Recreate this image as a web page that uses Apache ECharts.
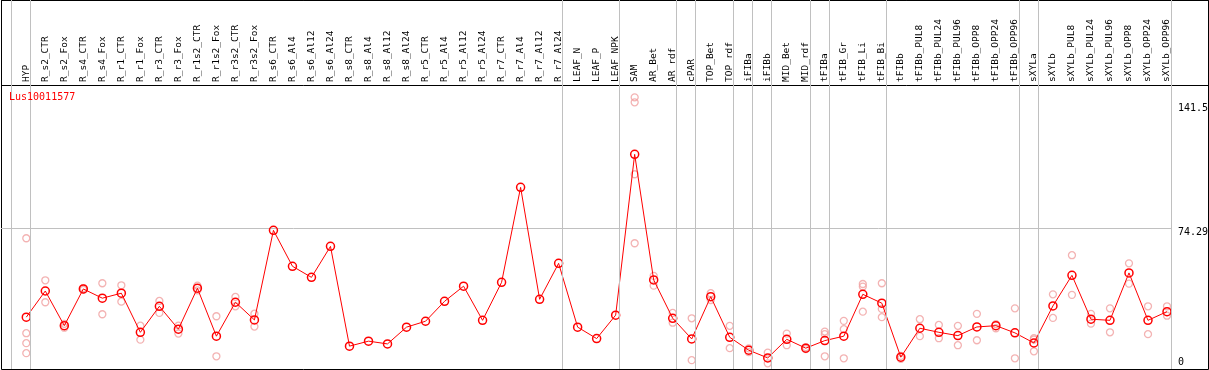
<!DOCTYPE html>
<html>
<head>
<meta charset="utf-8">
<script src="https://cdn.jsdelivr.net/npm/echarts@6/dist/echarts.min.js"></script>
<style>html,body{margin:0;padding:0;background:#fff;}#c{width:1209px;height:370px;}</style>
</head>
<body>
<div id="c"></div>
<script>
const categories = ["HYP","R_s2_CTR","R_s2_Fox","R_s4_CTR","R_s4_Fox","R_r1_CTR","R_r1_Fox","R_r3_CTR","R_r3_Fox","R_r1s2_CTR","R_r1s2_Fox","R_r3s2_CTR","R_r3s2_Fox","R_s6_CTR","R_s6_Al4","R_s6_Al12","R_s6_Al24","R_s8_CTR","R_s8_Al4","R_s8_Al12","R_s8_Al24","R_r5_CTR","R_r5_Al4","R_r5_Al12","R_r5_Al24","R_r7_CTR","R_r7_Al4","R_r7_Al12","R_r7_Al24","LEAF_N","LEAF_P","LEAF_NPK","SAM","AR_Bet","AR_rdf","cPAR","TOP_Bet","TOP_rdf","iFIBa","iFIBb","MID_Bet","MID_rdf","tFIBa","tFIB_Gr","tFIB_Li","tFIB_Bi","tFIBb","tFIBb_PUL8","tFIBb_PUL24","tFIBb_PUL96","tFIBb_OPP8","tFIBb_OPP24","tFIBb_OPP96","sXYLa","sXYLb","sXYLb_PUL8","sXYLb_PUL24","sXYLb_PUL96","sXYLb_OPP8","sXYLb_OPP24","sXYLb_OPP96"];

const meanValues = [26.1,40.3,21.5,41.4,36.4,39.1,17.9,32.0,19.6,41.8,15.8,34.2,24.6,73.2,53.7,47.7,64.5,10.4,13.1,11.6,20.7,23.9,34.7,42.9,24.4,45.0,96.5,35.8,55.3,20.7,14.5,27.2,114.4,46.3,25.5,14.3,37.2,15.2,8.2,4.0,14.1,9.3,13.4,15.8,38.5,33.7,4.4,20.1,17.9,16.1,20.8,21.5,17.6,12.1,32.2,48.8,25.0,24.4,50.1,24.4,29.1];

const replicateValues = [
  [68.9,17.4,12.0,6.6],[46.1,34.2],[22.5,20.4],[41.9,40.9],[44.5,27.7],[43.4,34.5],[21.5,13.9],[34.9,28.4],[21.5,17.2],[43.2,40.6],[26.6,4.9],[37.1,32.0],[28.0,21.0],
  [],[],[],[],[],[],[],[],[],[],[],[],[],[],[],[],[],[],[],
  [145.3,142.6,103.6,66.2],[48.5,43.2],[28.4,23.1],[25.5,2.8],[39.1,35.4],[21.4,9.3],[9.2,7.2],[6.9,1.1],[17.2,10.9],[9.8,8.8],
  [18.3,16.9,4.9],[24.1,19.6,3.8],[44.1,42.7,29.1],[44.5,30.6,26.1],[5.1,3.5],[25.0,15.8],[21.9,14.7],[21.4,10.9],[27.9,13.6],[22.3,20.1],[30.9,3.8],
  [14.7,14.0,7.6],[38.5,25.7],[59.7,38.2],[27.9,22.6],[30.9,17.9],[55.3,44.3],[32.0,16.9],[32.0,26.9]
];

// group boundaries: a separator follows each of these category indices (-1 = before the first)
const groupEnds = [-1,0,28,31,34,35,37,38,39,41,42,45,52,53,60];

const yTickLabels = [0, 74.29, 141.5];
const seriesName = "Lus10011577";

const FONT = "DejaVu Sans Mono";
const XMIN = -1.33, XMAX = 60.21;
const SEP_OFF = 0.21;

const lineData = meanValues.map((v, i) => [i, v]);
const repData = [];
replicateValues.forEach((arr, i) => arr.forEach(v => repData.push([i, v])));
const idx = categories.map((c, i) => i);

const chart = echarts.init(document.getElementById('c'), null, {renderer: 'canvas'});
chart.setOption({
  animation: false,
  backgroundColor: '#fff',
  title: {
    text: seriesName, left: 9, top: 92, padding: 0,
    textStyle: {color: '#ff0000', fontFamily: FONT, fontSize: 10, fontWeight: 'normal'}
  },
  grid: [
    {left: 1, right: 38, top: 85, bottom: 1, outerBoundsMode: 'none', containLabel: false},
    {left: 1, right: 38, top: 0, bottom: 1, outerBoundsMode: 'none'},
    {left: 1.5, right: 0.5, top: 0.5, bottom: 0.5, show: true, borderColor: '#000', borderWidth: 1, backgroundColor: 'transparent', outerBoundsMode: 'none'},
    {left: 1.5, right: 0.5, top: 0.5, height: 85, show: true, borderColor: '#000', borderWidth: 1, backgroundColor: 'transparent', outerBoundsMode: 'none'}
  ],
  xAxis: [
    {gridIndex: 0, type: 'value', min: XMIN, max: XMAX, position: 'top',
     axisLine: {show: false}, axisTick: {show: false}, splitLine: {show: false},
     axisLabel: {customValues: idx, formatter: v => categories[v] || '', rotate: 90, margin: 3,
                 fontFamily: FONT, fontSize: 9.5, color: '#000', hideOverlap: false}},
    {gridIndex: 1, type: 'value', min: XMIN, max: XMAX, show: false},
    {gridIndex: 2, type: 'value', min: 0, max: 1, show: false},
    {gridIndex: 3, type: 'value', min: 0, max: 1, show: false}
  ],
  yAxis: [
    {gridIndex: 0, type: 'value', min: -2, max: 152, position: 'right',
     axisLine: {show: false}, axisTick: {show: false}, splitLine: {show: false},
     axisLabel: {customValues: yTickLabels, margin: 7, align: 'left', verticalAlign: 'middle',
                 fontFamily: FONT, fontSize: 10, color: '#000',
                 formatter: v => v === 0 ? '{b|' + v + '}' : '{t|' + v + '}',
                 rich: {t: {padding: [8, 0, 0, 0], lineHeight: 12, fontFamily: FONT, fontSize: 10, color: '#000'},
                        b: {padding: [0, 0, 6, 0], lineHeight: 12, fontFamily: FONT, fontSize: 10, color: '#000'}}}},
    {gridIndex: 1, type: 'value', min: 0, max: 1, show: false},
    {gridIndex: 2, type: 'value', min: 0, max: 1, show: false},
    {gridIndex: 3, type: 'value', min: 0, max: 1, show: false}
  ],
  series: [
    {
      type: 'scatter', xAxisIndex: 1, yAxisIndex: 1, data: [], silent: true,
      markLine: {
        silent: true, symbol: 'none', label: {show: false},
        lineStyle: {color: '#c0c0c0', width: 1, type: 'solid'},
        data: groupEnds.map(g => ({xAxis: g + SEP_OFF}))
      }
    },
    {
      name: 'replicates', type: 'scatter', xAxisIndex: 0, yAxisIndex: 0,
      data: repData, symbol: 'circle', symbolSize: 7, z: 2,
      itemStyle: {color: 'rgba(0,0,0,0)', borderColor: '#f0a0a0', borderWidth: 1.3}
    },
    {
      name: seriesName, type: 'line', xAxisIndex: 0, yAxisIndex: 0,
      data: lineData, symbol: 'circle', symbolSize: 8, z: 3,
      lineStyle: {color: '#ff0000', width: 1},
      itemStyle: {color: 'rgba(0,0,0,0)', borderColor: '#ff0000', borderWidth: 1.5},
      markLine: {
        silent: true, symbol: 'none', label: {show: false},
        lineStyle: {color: '#c0c0c0', width: 1, type: 'solid'},
        data: [{yAxis: yTickLabels[1]}], z: 1
      }
    }
  ]
});
</script>
</body>
</html>
